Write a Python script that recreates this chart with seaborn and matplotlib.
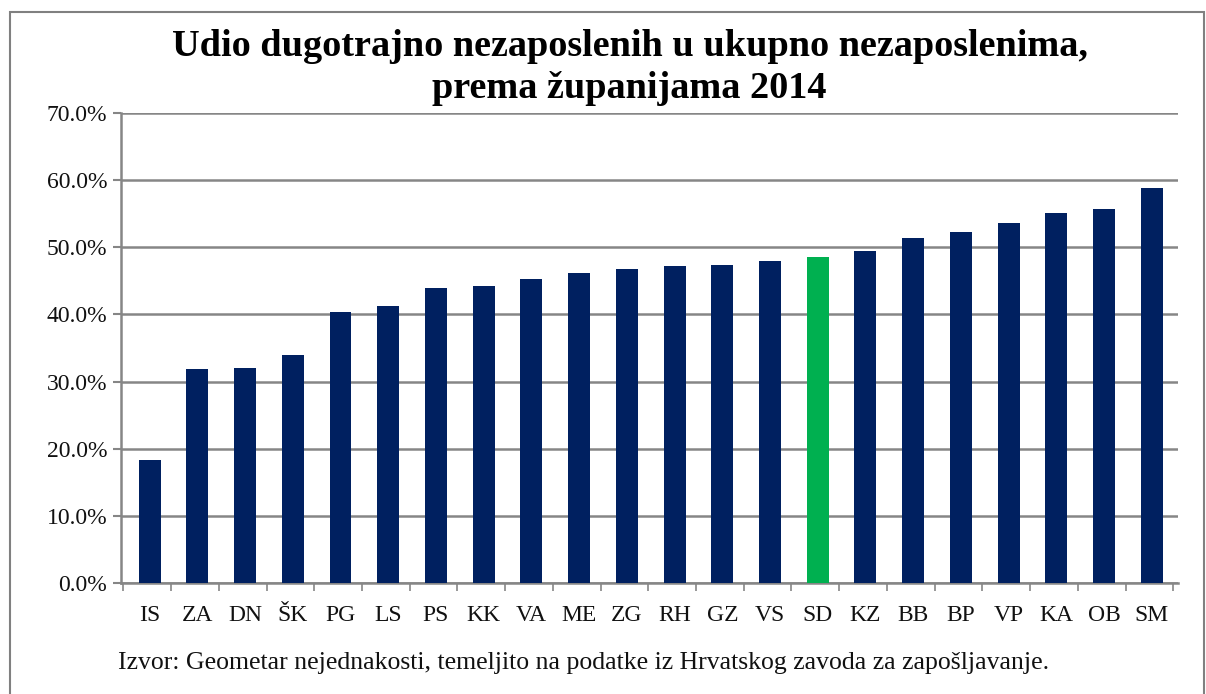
import matplotlib
matplotlib.use("Agg")
import matplotlib.pyplot as plt
import seaborn as sns
from matplotlib.patches import Rectangle
from matplotlib.ticker import FuncFormatter, FixedLocator

# Podaci (udio dugotrajno nezaposlenih, %)
zupanije = ['IS', 'ZA', 'DN', 'ŠK', 'PG', 'LS', 'PS', 'KK', 'VA', 'ME', 'ZG',
            'RH', 'GZ', 'VS', 'SD', 'KZ', 'BB', 'BP', 'VP', 'KA', 'OB', 'SM']
udio = [18.3, 31.8, 32.0, 34.0, 40.4, 41.3, 43.9, 44.3, 45.2, 46.2, 46.7,
        47.2, 47.3, 48.0, 48.5, 49.5, 51.4, 52.2, 53.6, 55.1, 55.7, 58.8]
istaknuto = 'SD'

navy = '#002060'
green = '#00B050'
grid_col = '#868686'

sns.set_style("white")
plt.rcParams['font.family'] = ['Liberation Serif', 'DejaVu Serif']

fig = plt.figure(figsize=(12.06, 6.94), dpi=100)
ax = fig.add_axes([0.1003, 0.16, 0.8765, 0.6772])

boje = [green if z == istaknuto else navy for z in zupanije]
sns.barplot(x=zupanije, y=udio, hue=zupanije, palette=boje, legend=False,
            width=0.46, linewidth=0, saturation=1, ax=ax, zorder=3)

ax.set_ylim(0, 70)
ax.set_xlim(-0.6, len(zupanije) - 0.45)
ax.set_yticks(range(0, 71, 10))
ax.yaxis.set_major_formatter(FuncFormatter(lambda v, p: f'{v:.1f}%'))
ax.grid(axis='y', color=grid_col, linewidth=1.8, zorder=0)
ax.set_axisbelow(True)

for s in ['top', 'right']:
    ax.spines[s].set_visible(False)
for s in ['left', 'bottom']:
    ax.spines[s].set_color(grid_col)
    ax.spines[s].set_linewidth(1.8)

ax.tick_params(axis='y', length=6, width=1.5, color=grid_col, labelsize=17,
               labelcolor='#111111', pad=4, left=True)
ax.tick_params(axis='x', which='major', length=0, labelsize=17, pad=16,
               labelcolor='#111111')
ax.xaxis.set_minor_locator(FixedLocator([i - 0.55 for i in range(len(zupanije) + 1)]))
ax.tick_params(axis='x', which='minor', length=6, width=1.2, color=grid_col,
               bottom=True)
ax.set_xlabel('')
ax.set_ylabel('')

fig.text(0.522, 0.903, 'Udio dugotrajno nezaposlenih u ukupno nezaposlenima,\nprema županijama 2014',
         ha='center', va='center', fontsize=27.5, fontweight='bold', linespacing=1.25,
         color='black')

fig.text(0.098, 0.044, 'Izvor: Geometar nejednakosti, temeljito na podatke iz Hrvatskog zavoda za zapošljavanje.',
         ha='left', va='center', fontsize=18.5, color='#111111')

# okvir grafikona
fig.patches.append(Rectangle((10 / 1206, -0.05), 1194 / 1206, 1 - 12 / 694 + 0.05,
                             transform=fig.transFigure, fill=False,
                             edgecolor='#808080', linewidth=1.5))

fig.savefig('out.png', dpi=100)
